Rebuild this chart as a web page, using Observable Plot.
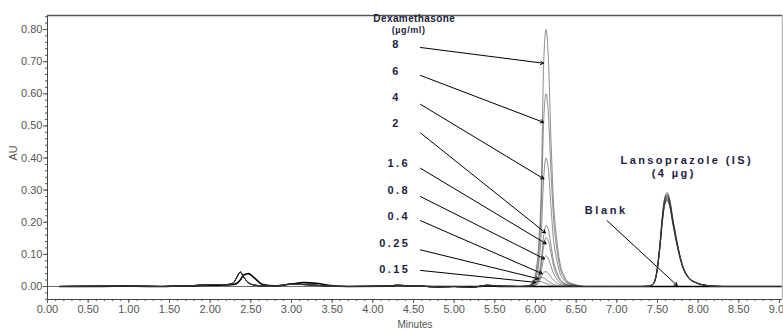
<!DOCTYPE html>
<html><head><meta charset="utf-8">
<script src="https://cdn.jsdelivr.net/npm/d3@7"></script>
<script src="https://cdn.jsdelivr.net/npm/@observablehq/plot@0.6"></script>
<style>body{margin:0;background:#fff}svg{display:block}</style>
</head><body><div id="chart"></div>
<script>
// ---- axis ticks ----
const xTicks = [0,0.5,1,1.5,2,2.5,3,3.5,4,4.5,5,5.5,6,6.5,7,7.5,8,8.5,9];
const yTicks = [0,0.1,0.2,0.3,0.4,0.5,0.6,0.7,0.8];

// ---- baseline region (minutes / AU) ----
const baseTimes  = [0.15,0.45,0.85,0.95,1.05,1.4,1.6,1.8,2.0,2.2,2.28,2.33,2.37,2.41,2.47,2.55,2.65,2.8,3.0,3.15,3.3,3.45,3.7,4.2,4.3,4.45,4.6,4.8,5.0,5.2,5.3,5.4,5.6,5.8];
const sampleBase = [0,0.001,0.002,0.003,0.002,0,0.002,0.003,0.006,0.006,0.01,0.03,0.045,0.03,0.012,0.004,0.002,0.002,0.007,0.006,0.004,0.001,0,0.002,0.004,0.002,0.001,-0.002,0,-0.003,0,0.004,0.001,0];
const blankBase  = [0,0,0.001,0.002,0.001,0,0.001,0.002,0.004,0.005,0.006,0.01,0.02,0.035,0.04,0.025,0.006,0.002,0.008,0.012,0.01,0.004,0,0.001,0.003,0.002,0.001,0,0,0,0,0.002,0,0];

// ---- dexamethasone peaks ----
const dexTimes = [5.90,5.96,6.00,6.04,6.07,6.10,6.13,6.16,6.19,6.22,6.26,6.30,6.35,6.40,6.50,6.60];
const dex8    = [0.002,0.012,0.04,0.136,0.30,0.69,0.80,0.70,0.46,0.27,0.15,0.075,0.034,0.015,0.005,0];
const dex6    = [0.002,0.009,0.03,0.10,0.24,0.51,0.60,0.53,0.36,0.22,0.12,0.06,0.028,0.012,0.004,0];
const dex4    = [0.001,0.006,0.02,0.07,0.16,0.335,0.40,0.36,0.25,0.15,0.085,0.042,0.02,0.009,0.003,0];
const dex2    = [0.001,0.003,0.01,0.035,0.08,0.155,0.19,0.175,0.13,0.082,0.046,0.024,0.011,0.005,0.002,0];
const dex1_6  = [0.001,0.003,0.008,0.028,0.065,0.125,0.152,0.14,0.105,0.066,0.037,0.019,0.009,0.004,0.001,0];
const dex0_8  = [0,0.002,0.005,0.018,0.045,0.085,0.095,0.086,0.064,0.042,0.024,0.012,0.006,0.003,0.001,0];
const dex0_4  = [0,0.001,0.004,0.012,0.03,0.045,0.046,0.04,0.03,0.02,0.012,0.006,0.003,0.001,0,0];
const dex0_25 = [0.001,0.005,0.014,0.024,0.028,0.027,0.022,0.016,0.011,0.007,0.004,0.002,0.001,0,0,0];
const dex0_15 = [0.002,0.007,0.013,0.016,0.015,0.012,0.009,0.006,0.004,0.002,0.001,0,0,0,0,0];

// ---- lansoprazole (IS) peaks ----
const isTimes = [7.30,7.40,7.45,7.49,7.53,7.56,7.59,7.62,7.65,7.69,7.74,7.80,7.88,7.98,8.10,8.30];
const is8    = [0,0.0015,0.009,0.044,0.132,0.22,0.278,0.293,0.272,0.211,0.141,0.073,0.029,0.012,0.0035,0];
const is6    = [0,0.0014,0.009,0.043,0.13,0.216,0.274,0.288,0.268,0.207,0.138,0.072,0.029,0.012,0.0035,0];
const is4    = [0,0.0015,0.010,0.047,0.136,0.22,0.274,0.285,0.263,0.203,0.136,0.071,0.028,0.011,0.0034,0];
const is2    = [0,0.0014,0.008,0.041,0.124,0.209,0.267,0.282,0.264,0.205,0.137,0.071,0.029,0.011,0.0034,0];
const is1_6  = [0,0.0014,0.008,0.042,0.126,0.21,0.265,0.279,0.26,0.201,0.134,0.07,0.028,0.011,0.0033,0];
const is0_8  = [0,0.0013,0.008,0.041,0.124,0.207,0.262,0.276,0.257,0.199,0.132,0.069,0.028,0.011,0.0033,0];
const is0_4  = [0,0.0014,0.009,0.043,0.127,0.207,0.26,0.273,0.253,0.195,0.13,0.068,0.027,0.011,0.0033,0];
const is0_25 = [0,0.0013,0.008,0.04,0.12,0.2,0.256,0.27,0.252,0.195,0.13,0.068,0.027,0.011,0.0032,0];
const is0_15 = [0,0.0013,0.008,0.041,0.121,0.2,0.254,0.268,0.249,0.193,0.129,0.067,0.027,0.011,0.0032,0];

const blankTailT = [5.9,6.6,7.3,8.3,9.037];
const blankTailV = [0,0,0,0,0];

// ---- annotations ----
const concLabels = ["8","6","4","2","1.6","0.8","0.4","0.25","0.15"];
const labelX = [4.29,4.29,4.29,4.29,4.32,4.32,4.32,4.27,4.27];
const labelY = [0.753,0.669,0.589,0.506,0.382,0.299,0.218,0.135,0.052];
const arrowX1 = [4.586,4.586,4.586,4.586,4.586,4.586,4.586,4.586,4.586];
const arrowY1 = [0.744,0.657,0.567,0.478,0.368,0.280,0.205,0.114,0.050];
const arrowX2 = [6.099,6.099,6.103,6.123,6.131,6.111,6.082,6.037,5.999];
const arrowY2 = [0.695,0.511,0.335,0.167,0.133,0.086,0.040,0.024,0.013];

const titleTexts = ["Dexamethasone","(µg/ml)","Lansoprazole (IS)","(4 µg)","Blank"];
const titleX = [4.51,4.44,7.86,7.70,6.87];
const titleY = [0.832,0.797,0.392,0.352,0.237];
const titleSize = [10,9,11,11,11];
const blankArrow = {x1:6.88, y1:0.205, x2:7.742, y2:0.003};

// ---- build tables ----
const dexSeries = [dex8,dex6,dex4,dex2,dex1_6,dex0_8,dex0_4,dex0_25,dex0_15];
const isSeries  = [is8,is6,is4,is2,is1_6,is0_8,is0_4,is0_25,is0_15];
const rows = [];
concLabels.forEach((name,i) => {
  baseTimes.forEach((t,j) => rows.push({name, t, v: sampleBase[j]}));
  dexTimes.forEach((t,j) => rows.push({name, t, v: dexSeries[i][j]}));
  rows.push({name, t:6.9, v:0});
  isTimes.forEach((t,j) => rows.push({name, t, v: isSeries[i][j]}));
  rows.push({name, t:9.037, v:0});
});
const blankRows = [];
baseTimes.forEach((t,j) => blankRows.push({t, v: blankBase[j]}));
blankTailT.forEach((t,j) => blankRows.push({t, v: blankTailV[j]}));

const arrows = concLabels.map((c,i) => ({x1:arrowX1[i], y1:arrowY1[i], x2:arrowX2[i], y2:arrowY2[i]}));
const labels = concLabels.map((c,i) => ({text:c, x:labelX[i], y:labelY[i]}));
const titles = titleTexts.map((c,i) => ({text:c, x:titleX[i], y:titleY[i], size:titleSize[i]}));

const yMin = -0.0405, yMax = 0.8436, xMax = 9.037;

const chart = Plot.plot({
  width: 783, height: 332,
  marginLeft: 47, marginRight: 1, marginTop: 15, marginBottom: 33,
  x: {domain: [0, xMax]},
  y: {domain: [yMin, yMax]},
  style: {fontFamily: "'Liberation Sans', Arial, sans-serif", fontSize: "11px", background: "#fff"},
  marks: [
    Plot.ruleY([0], {stroke: "#444", strokeWidth: 0.8}),
    Plot.line(blankRows, {x: "t", y: "v", stroke: "#000", strokeWidth: 1.6, curve: "monotone-x"}),
    Plot.line(rows, {x: "t", y: "v", z: "name", stroke: "#333", strokeOpacity: 0.55, strokeWidth: 1, curve: "monotone-x"}),
    // frame
    Plot.ruleY([yMax], {stroke: "#555", strokeWidth: 1.5}),
    Plot.ruleX([xMax], {stroke: "#bbb", strokeWidth: 1.5}),
    Plot.ruleY([yMin], {stroke: "#444", strokeWidth: 1}),
    Plot.ruleX([0], {stroke: "#444", strokeWidth: 1}),
    // axes
    Plot.axisX({ticks: xTicks, tickFormat: ".2f", tickSize: 4, tickPadding: 2, color: "#555", label: null}),
    Plot.axisX({ticks: d3.range(0, 9.05, 0.1), tickFormat: () => "", tickSize: 2, color: "#555", label: null}),
    Plot.axisY({ticks: yTicks, tickFormat: ".2f", tickSize: 4, tickPadding: 1, color: "#555", label: null}),
    Plot.axisY({ticks: d3.range(-0.04, 0.841, 0.02), tickFormat: () => "", tickSize: 2, color: "#555", label: null}),
    Plot.text(["Minutes"], {frameAnchor: "bottom", dy: 28, fontSize: 10, fill: "#555"}),
    Plot.text(["AU"], {frameAnchor: "left", dx: -34, dy: 3, rotate: -90, fontSize: 11, fill: "#555"}),
    // annotations
    Plot.arrow(arrows, {x1: "x1", y1: "y1", x2: "x2", y2: "y2", stroke: "#000", strokeWidth: 1, headLength: 5}),
    Plot.arrow([blankArrow], {x1: "x1", y1: "y1", x2: "x2", y2: "y2", stroke: "#000", strokeWidth: 1, headLength: 5}),
    Plot.text(labels, {x: "x", y: "y", text: "text", fontWeight: "bold", fontSize: 11, fill: "#1d1d3f"}),
    Plot.text(titles, {x: "x", y: "y", text: "text", fontWeight: "bold", fontSize: "size", fill: "#1d1d3f"})
  ]
});
const spacing = {"Dexamethasone": "0.4px", "(µg/ml)": "0.6px", "Lansoprazole (IS)": "2.4px", "(4 µg)": "2.4px", "Blank": "2.6px"};
concLabels.forEach(c => spacing[c] = "2.4px");
d3.select(chart).selectAll("text").each(function() {
  const s = spacing[this.textContent];
  if (s) this.style.letterSpacing = s;
});
document.getElementById("chart").appendChild(chart);
</script></body></html>
